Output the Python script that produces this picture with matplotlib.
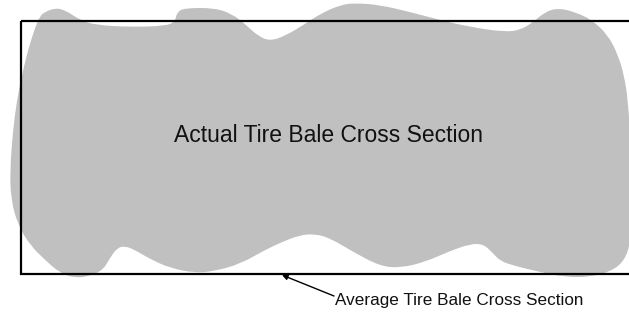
import matplotlib.pyplot as plt
from matplotlib.path import Path
from matplotlib.patches import PathPatch, Rectangle

# Outline of the actual bale cross section (control points, pixel coords, y down)
blob_x = [45, 55, 65, 80, 95, 130, 165, 175, 177, 185, 215, 232, 245, 258, 270, 285,
          305, 320, 340, 355, 380, 410, 440, 470, 505, 520, 532, 545, 558, 575, 592,
          608, 618, 624, 628, 631, 632, 631, 625, 612, 590, 565, 540, 515, 500, 492,
          483, 470, 450, 425, 400, 380, 355, 330, 315, 300, 282, 265, 240, 215, 195,
          170, 150, 135, 125, 117, 110, 103, 90, 75, 60, 45, 30, 18, 11, 10, 13, 17,
          22, 28, 35, 40]
blob_y = [12, 8, 10, 20, 25, 27, 26, 22, 12, 8, 8, 14, 24, 36, 41, 36,
          24, 14, 5, 3, 5, 12, 20, 27, 32, 30, 23, 12, 8, 12, 20,
          35, 55, 75, 100, 150, 200, 240, 260, 271, 277, 277, 272, 266, 261, 252,
          244, 244, 251, 262, 268, 266, 253, 238, 234, 235, 242, 250, 264, 271, 273,
          268, 259, 250, 246, 248, 258, 270, 276, 278, 273, 260, 245, 225, 200, 170, 130, 100,
          75, 50, 28, 16]

# Average (rectangular) cross section
rect_left, rect_top, rect_bottom, rect_right = 21, 21, 274, 640

label_actual = "Actual Tire Bale Cross Section"
label_average = "Average Tire Bale Cross Section"

fig = plt.figure(figsize=(6.29, 3.12), dpi=100)
ax = fig.add_axes([0, 0, 1, 1])
ax.set_xlim(0, 629)
ax.set_ylim(312, 0)
ax.axis("off")

# smooth closed outline: quadratic beziers through midpoints of the control polygon
pts = list(zip(blob_x, blob_y))
n = len(pts)
mids = [((pts[i][0] + pts[(i + 1) % n][0]) / 2, (pts[i][1] + pts[(i + 1) % n][1]) / 2)
        for i in range(n)]
verts = [mids[-1]]
codes = [Path.MOVETO]
for i in range(n):
    verts += [pts[i], mids[i]]
    codes += [Path.CURVE3, Path.CURVE3]
verts.append(mids[-1])
codes.append(Path.CLOSEPOLY)
ax.add_patch(PathPatch(Path(verts, codes), facecolor="#c0c0c0", edgecolor="none"))

ax.add_patch(Rectangle((rect_left, rect_top), rect_right - rect_left, rect_bottom - rect_top,
                       fill=False, edgecolor="black", linewidth=1.6))

ax.text(328, 135, label_actual, ha="center", va="center", fontsize=16.5,
        family="Liberation Sans", color="#111111")

ax.annotate("", xy=(282, 275), xytext=(334, 296),
            arrowprops=dict(arrowstyle="-|>", color="black", lw=1.0, mutation_scale=8,
                            shrinkA=0, shrinkB=0))
ax.text(335, 300, label_average, ha="left", va="center", fontsize=12.3,
        family="Liberation Sans", color="#111111")

fig.savefig("out.png", dpi=100)
